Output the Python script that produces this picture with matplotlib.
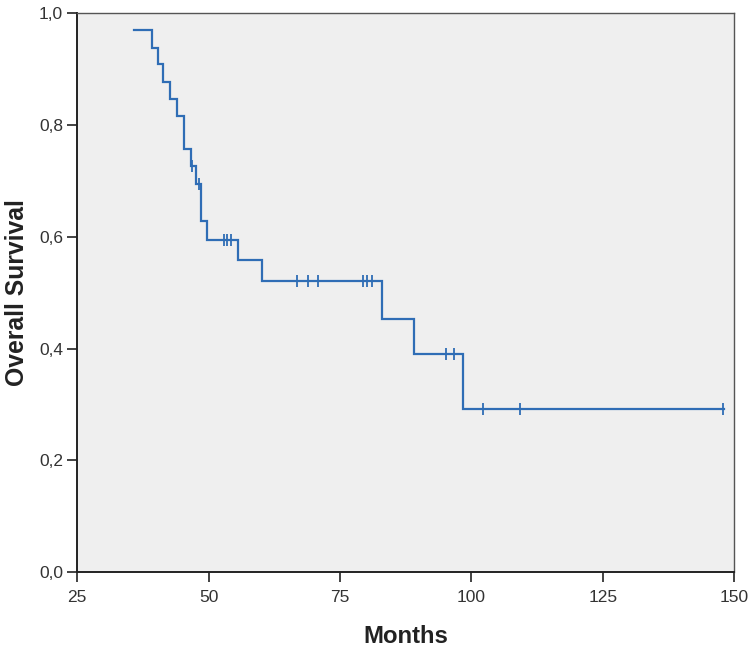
import matplotlib
matplotlib.use("Agg")
import matplotlib.pyplot as plt
from matplotlib.ticker import FixedLocator

# Kaplan-Meier step curve: event times (months) and survival after each event
start_time = 35.8
start_surv = 0.970
event_times = [39.2, 40.3, 41.4, 42.7, 44.0, 45.3, 46.6, 47.7, 48.5, 49.7,
               55.6, 60.2, 83.0, 89.1, 98.3]
event_surv = [0.938, 0.909, 0.878, 0.847, 0.817, 0.757, 0.726, 0.695, 0.629,
              0.595, 0.559, 0.521, 0.454, 0.390, 0.292]
end_time = 148.0

# censored observations (months)
censor_times = [46.8, 48.1, 52.9, 53.5, 54.3, 66.8, 69.0, 70.9, 79.3, 80.2,
                81.1, 95.1, 96.7, 102.1, 109.2, 147.8]

x_ticks = [25, 50, 75, 100, 125, 150]
y_ticks = [0.0, 0.2, 0.4, 0.6, 0.8, 1.0]
y_tick_labels = ["0,0", "0,2", "0,4", "0,6", "0,8", "1,0"]

color = "#2f6db5"

fig = plt.figure(figsize=(7.53, 6.49), dpi=100)
ax = fig.add_axes([0.1023, 0.1182, 0.8731, 0.8613])
ax.set_facecolor("#efefef")

xs = [start_time] + event_times + [end_time]
ys = [start_surv] + event_surv + [event_surv[-1]]
ax.step(xs, ys, where="post", color=color, lw=1.6, solid_joinstyle="miter")


def surv_at(t):
    s = start_surv
    for et, es in zip(event_times, event_surv):
        if et <= t:
            s = es
    return s


cy = [surv_at(t) for t in censor_times]
ax.plot(censor_times, cy, linestyle="none", marker="|", markersize=9,
        markeredgewidth=1.3, color=color)

ax.set_xlim(25, 150)
ax.set_ylim(0, 1.0)
ax.xaxis.set_major_locator(FixedLocator(x_ticks))
ax.yaxis.set_major_locator(FixedLocator(y_ticks))
ax.set_yticklabels(y_tick_labels)

font = "Liberation Sans"
for lab in ax.get_xticklabels() + ax.get_yticklabels():
    lab.set_fontfamily(font)
    lab.set_fontsize(12.5)
    lab.set_color("#333333")

ax.tick_params(axis="both", direction="out", length=7, width=1.2, color="#222222")
ax.tick_params(axis="x", pad=6)
ax.tick_params(axis="y", pad=3)

for side in ["left", "bottom"]:
    ax.spines[side].set_color("#222222")
    ax.spines[side].set_linewidth(1.4)
for side in ["top", "right"]:
    ax.spines[side].set_color("#555555")
    ax.spines[side].set_linewidth(1.0)

ax.set_xlabel("Months", fontfamily=font, fontweight="bold", fontsize=17.2,
              color="#222222", labelpad=14)
ax.set_ylabel("Overall Survival", fontfamily=font, fontweight="bold",
              fontsize=17.8, color="#222222", labelpad=7)

fig.savefig("out.png", dpi=100, facecolor="white")
